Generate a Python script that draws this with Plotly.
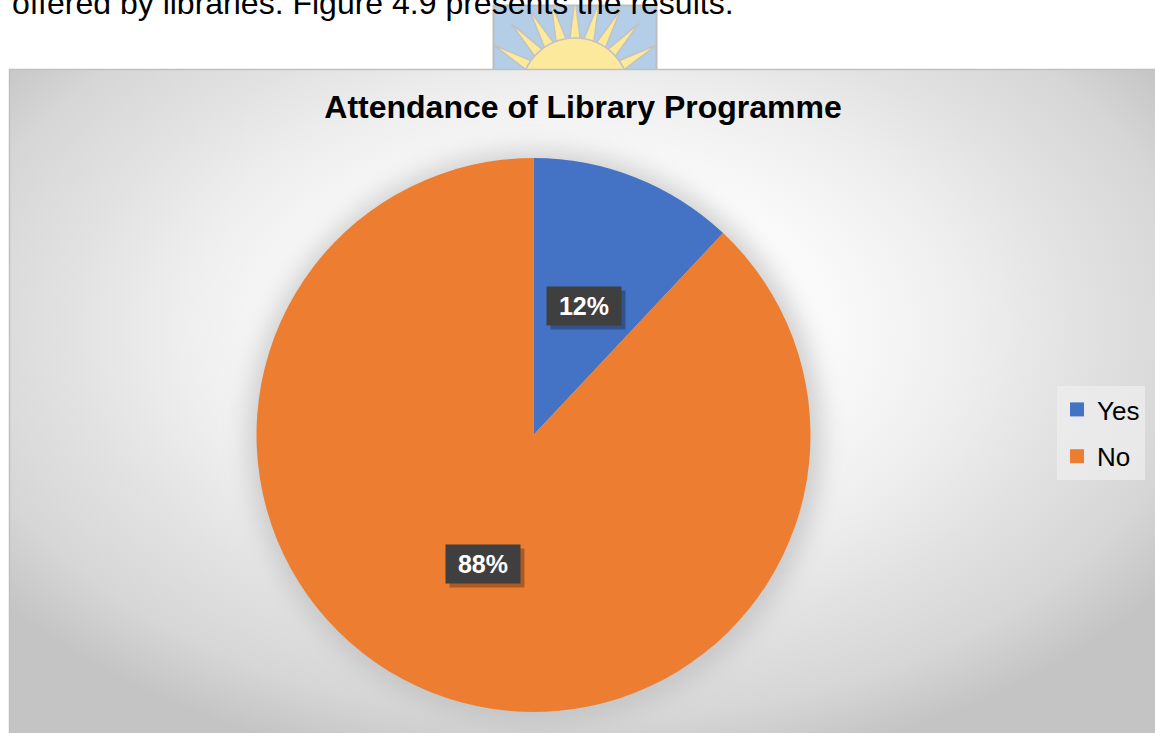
import base64
import math
import plotly.graph_objects as go

# Survey result: attendance of library programmes
categories = ["Yes", "No"]
values = [12, 88]
slice_colors = ["#4472C4", "#ED7D31"]
value_labels = ["12%", "88%"]

title_text = "Attendance of Library Programme"
lead_text = "offered by libraries. Figure 4.9 presents the results."

W, H = 1155, 733
FONT = "Liberation Sans, Arial, sans-serif"

# Pie placement in pixels
cx, cy, R = 533.5, 435.0, 277.0


def px_x(x):
    return x / W


def px_y(y):
    return 1 - y / H


# ---------- background artwork (page, watermark, chart area) ----------
def sun_logo():
    sx, sy, sr = 575.0, 92.0, 54.0
    parts = ['<clipPath id="lc"><rect x="494" y="6" width="162" height="63"/></clipPath>',
             '<rect x="493.5" y="5.5" width="163" height="70" fill="#b3cee6" stroke="#bdbdbd" stroke-width="2"/>',
             '<g clip-path="url(#lc)">']
    for a in [150, 133, 119, 105, 90, 75, 61, 47, 30]:
        t = math.radians(a)
        w = math.radians(6.5)
        p1 = (sx + (sr - 4) * math.cos(t - w), sy - (sr - 4) * math.sin(t - w))
        p2 = (sx + 94 * math.cos(t), sy - 94 * math.sin(t))
        p3 = (sx + (sr - 4) * math.cos(t + w), sy - (sr - 4) * math.sin(t + w))
        pts = " ".join(f"{p[0]:.1f},{p[1]:.1f}" for p in (p1, p2, p3))
        parts.append(f'<polygon points="{pts}" fill="#fce99a" stroke="#c2c2c2" stroke-width="1.5"/>')
    parts.append(f'<circle cx="{sx}" cy="{sy}" r="{sr}" fill="#fde99c" stroke="#c2c2c2" stroke-width="1.5"/>')
    parts.append('</g>')
    return "".join(parts)


svg = f'''<svg xmlns="http://www.w3.org/2000/svg" width="{W}" height="{H}" viewBox="0 0 {W} {H}">
<defs>
<radialGradient id="bg" gradientUnits="userSpaceOnUse" cx="0" cy="0" r="1"
  gradientTransform="translate(575 330) scale(720 450)">
  <stop offset="0" stop-color="#ffffff"/>
  <stop offset="0.35" stop-color="#fafafa"/>
  <stop offset="0.55" stop-color="#eeeeee"/>
  <stop offset="0.7" stop-color="#e2e2e2"/>
  <stop offset="0.87" stop-color="#d6d6d6"/>
  <stop offset="1" stop-color="#c4c4c4"/>
</radialGradient>
<filter id="blur" x="-30%" y="-30%" width="160%" height="160%">
  <feGaussianBlur stdDeviation="12"/>
</filter>
</defs>
<rect width="{W}" height="{H}" fill="#ffffff"/>
{sun_logo()}
<rect x="9.5" y="69.5" width="1160" height="700" fill="url(#bg)" stroke="#c0c0c0" stroke-width="1.5"/>
<circle cx="{cx + 2}" cy="{cy + 3}" r="{R + 10}" fill="#bdbdbd" opacity="0.7" filter="url(#blur)"/>
</svg>'''

bg_uri = "data:image/svg+xml;base64," + base64.b64encode(svg.encode("utf-8")).decode("ascii")

fig = go.Figure()

fig.add_trace(go.Pie(
    labels=categories,
    values=values,
    sort=False,
    direction="clockwise",
    rotation=0,
    marker=dict(colors=slice_colors, line=dict(width=0)),
    textinfo="none",
    hoverinfo="label+percent",
    showlegend=False,
    domain=dict(x=[px_x(cx - R), px_x(cx + R)], y=[px_y(cy + R), px_y(cy - R)]),
))

# Legend entries (square swatches)
for cat, col in zip(categories, slice_colors):
    fig.add_trace(go.Scatter(
        x=[None], y=[None], mode="markers", name=cat, legendgroup=cat,
        marker=dict(symbol="square", size=14, color=col), showlegend=True,
    ))

# Data labels in dark boxes at half radius of each slice
annotations = []
total = sum(values)
cum = 0
for v, lab in zip(values, value_labels):
    frac = (cum + v / 2) / total
    cum += v
    theta = 2 * math.pi * frac
    lx = cx + 0.5 * R * math.sin(theta)
    ly = cy - 0.5 * R * math.cos(theta)
    # soft drop shadow behind the label box
    annotations.append(dict(
        x=px_x(lx), y=px_y(ly), xref="paper", yref="paper", showarrow=False,
        xanchor="center", yanchor="middle",
        text=" ", width=72, height=36, bgcolor="rgba(0,0,0,0.28)",
        xshift=4, yshift=-4, font=dict(size=25, family=FONT),
    ))
    annotations.append(dict(
        x=px_x(lx), y=px_y(ly), xref="paper", yref="paper", showarrow=False,
        xanchor="center", yanchor="middle",
        text=f"<b>{lab}</b>", width=72, height=36, bgcolor="#3f3f3f",
        font=dict(size=25, family=FONT, color="#ffffff"),
    ))

# Running text of the page above the chart
annotations.append(dict(
    x=px_x(10), y=px_y(3), xref="paper", yref="paper", xanchor="left", yanchor="middle",
    showarrow=False, text=lead_text, font=dict(size=32, family=FONT, color="#000000"),
))

fig.update_layout(
    width=W, height=H,
    margin=dict(l=0, r=0, t=0, b=0),
    paper_bgcolor="#ffffff",
    plot_bgcolor="rgba(0,0,0,0)",
    xaxis=dict(visible=False),
    yaxis=dict(visible=False),
    title=dict(
        text=title_text, x=px_x(583), xanchor="center", y=px_y(107), yanchor="middle",
        xref="paper", yref="container",
        font=dict(size=32, family=FONT, color="#000000", weight="bold"),
    ),
    legend=dict(
        x=px_x(1057), y=px_y(386), xanchor="left", yanchor="top",
        bgcolor="rgba(238,238,238,0.75)", borderwidth=0,
        font=dict(size=26, family=FONT, color="#000000"),
        tracegroupgap=10, traceorder="grouped", itemwidth=30,
    ),
    images=[dict(
        source=bg_uri, xref="paper", yref="paper", x=0, y=1, sizex=1, sizey=1,
        xanchor="left", yanchor="top", sizing="stretch", layer="below",
    )],
    annotations=annotations,
    hovermode=False,
)

fig.write_html("out.html")
